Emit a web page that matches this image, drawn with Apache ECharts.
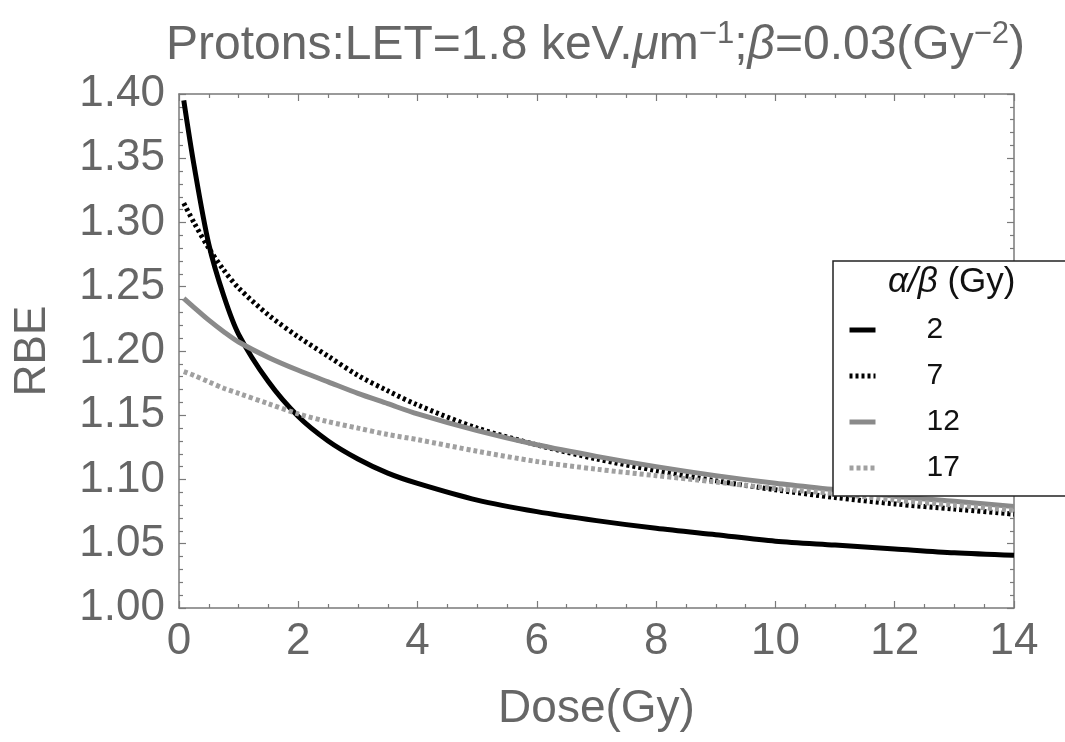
<!DOCTYPE html>
<html>
<head>
<meta charset="utf-8">
<script src="https://cdn.jsdelivr.net/npm/echarts@6/dist/echarts.min.js"></script>
<style>
  html, body { margin: 0; padding: 0; background: #fff; }
  #chart { width: 1065px; height: 742px; }
</style>
</head>
<body>
<div id="chart"></div>
<script>
// dose values (Gy)
const dose = [0.08, 0.25, 0.5, 0.75, 1, 1.5, 2, 2.5, 3, 3.5, 4, 5, 6, 7, 8, 9, 10, 11, 12, 13, 14];

// RBE for each alpha/beta (Gy)
const rbe2  = [1.395, 1.345, 1.283, 1.243, 1.213, 1.176, 1.149, 1.130, 1.116, 1.105, 1.097, 1.084, 1.075, 1.068, 1.062, 1.057, 1.052, 1.049, 1.046, 1.043, 1.041];
const rbe7  = [1.315, 1.300, 1.280, 1.263, 1.249, 1.228, 1.211, 1.196, 1.181, 1.169, 1.158, 1.140, 1.127, 1.116, 1.107, 1.099, 1.092, 1.086, 1.081, 1.077, 1.073];
const rbe12 = [1.241, 1.234, 1.224, 1.215, 1.207, 1.195, 1.185, 1.176, 1.167, 1.159, 1.151, 1.138, 1.127, 1.118, 1.110, 1.103, 1.097, 1.092, 1.087, 1.083, 1.079];
const rbe17 = [1.184, 1.181, 1.176, 1.171, 1.167, 1.159, 1.151, 1.145, 1.140, 1.135, 1.131, 1.122, 1.114, 1.108, 1.103, 1.098, 1.093, 1.089, 1.084, 1.080, 1.076];

const ratioNames = ['2', '7', '12', '17'];

const font = "'Liberation Sans', Arial, sans-serif";
const axisGray = '#7a7a7a';
const labelGray = '#666';

const toPairs = vals => dose.map((d, i) => [d, vals[i]]);

const myChart = echarts.init(document.getElementById('chart'));

// frame axes: bottom/left carry labels, top/right only ticks
const xBase = {
  type: 'value', min: 0, max: 14, interval: 2,
  axisLine: { show: true, onZero: false, lineStyle: { color: axisGray, width: 1.5 } },
  axisTick: { show: true, inside: true, length: 7, lineStyle: { color: axisGray, width: 1.2 } },
  minorTick: { show: true, splitNumber: 4, length: 4, lineStyle: { color: axisGray, width: 1.2 } },
  splitLine: { show: false }
};
const yBase = {
  type: 'value', min: 1, max: 1.4, interval: 0.05,
  axisLine: { show: true, onZero: false, lineStyle: { color: axisGray, width: 1.5 } },
  axisTick: { show: true, inside: true, length: 7, lineStyle: { color: axisGray, width: 1.2 } },
  minorTick: { show: true, splitNumber: 5, length: 4, lineStyle: { color: axisGray, width: 1.2 } },
  splitLine: { show: false }
};

const option = {
  backgroundColor: '#fff',
  animation: false,
  title: {
    text: '{a|Protons:LET=1.8 keV.}{i|μ}{a|m}{s|−1}{a|;}{i|β}{a|=0.03(Gy}{s|−2}{a|)}',
    left: 166,
    top: 19,
    padding: 0,
    textStyle: {
      rich: {
        a: { fontFamily: font, fontSize: 48, fontWeight: 'normal', color: labelGray, lineHeight: 54 },
        i: { fontFamily: font, fontSize: 48, fontWeight: 'normal', color: labelGray, lineHeight: 54, fontStyle: 'italic' },
        s: { fontFamily: font, fontSize: 31, fontWeight: 'normal', color: labelGray, lineHeight: 31, verticalAlign: 'top' }
      }
    }
  },
  grid: { left: 179, right: 51, top: 94, bottom: 134, containLabel: false },
  xAxis: [
    Object.assign({}, xBase, {
      position: 'bottom',
      name: 'Dose(Gy)', nameLocation: 'middle', nameGap: 78,
      nameTextStyle: { fontFamily: font, fontSize: 46, color: labelGray },
      axisLabel: { show: true, margin: 12, fontFamily: font, fontSize: 44, color: labelGray }
    }),
    Object.assign({}, xBase, { position: 'top', axisLabel: { show: false } })
  ],
  yAxis: [
    Object.assign({}, yBase, {
      position: 'left',
      name: 'RBE', nameLocation: 'middle', nameGap: 124, nameRotate: 90,
      nameTextStyle: { fontFamily: font, fontSize: 44, color: labelGray },
      axisLabel: {
        show: true, margin: 14, fontFamily: font, fontSize: 44, color: labelGray,
        formatter: v => v.toFixed(2)
      }
    }),
    Object.assign({}, yBase, { position: 'right', axisLabel: { show: false } })
  ],
  legend: {
    orient: 'vertical',
    left: 833,
    top: 261,
    data: ratioNames,
    padding: [54, 160, 13, 14],
    itemGap: 16,
    itemWidth: 26,
    itemHeight: 14,
    backgroundColor: '#fff',
    borderColor: '#222',
    borderWidth: 1.5,
    borderRadius: 0,
    itemStyle: { opacity: 0 },
    lineStyle: { width: 5 },
    textStyle: { fontFamily: font, fontSize: 30, lineHeight: 30, color: '#111', padding: [0, 0, 0, 46] }
  },
  graphic: [{
    type: 'text',
    left: 888,
    top: 265,
    z: 100,
    style: {
      text: '{i|α/β} (Gy)',
      rich: {
        i: { fontFamily: font, fontSize: 35, fill: '#111', fontStyle: 'italic' }
      },
      fontFamily: font,
      fontSize: 35,
      fill: '#111'
    }
  }],
  series: [
    {
      name: '2', type: 'line', data: toPairs(rbe2), showSymbol: false, symbol: 'none', smooth: 0.3,
      lineStyle: { color: '#000', width: 5 }, itemStyle: { color: '#000' }
    },
    {
      name: '7', type: 'line', data: toPairs(rbe7), showSymbol: false, symbol: 'none', smooth: 0.3,
      lineStyle: { color: '#000', width: 5, type: [3, 3], cap: 'butt' }, itemStyle: { color: '#000' }
    },
    {
      name: '12', type: 'line', data: toPairs(rbe12), showSymbol: false, symbol: 'none', smooth: 0.3,
      lineStyle: { color: '#8a8a8a', width: 5 }, itemStyle: { color: '#8a8a8a' }
    },
    {
      name: '17', type: 'line', data: toPairs(rbe17), showSymbol: false, symbol: 'none', smooth: 0.3,
      lineStyle: { color: '#a0a0a0', width: 5, type: [4, 3], cap: 'butt' }, itemStyle: { color: '#a0a0a0' }
    }
  ]
};

myChart.setOption(option);
</script>
</body>
</html>
